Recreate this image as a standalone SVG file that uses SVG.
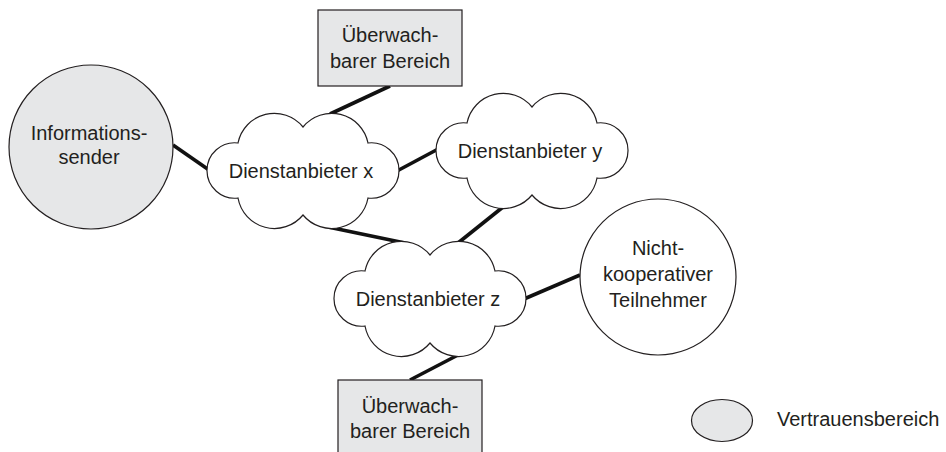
<svg xmlns="http://www.w3.org/2000/svg" xmlns:xlink="http://www.w3.org/1999/xlink" width="946" height="452" viewBox="0 0 946 452">
  <style>
    .link { stroke: #111; stroke-width: 3.6; stroke-linecap: butt; fill: none; }
    .trust { fill: #e6e7e8; stroke: #231f20; stroke-width: 1.2; }
    .area { fill: #e6e7e8; stroke: #231f20; stroke-width: 1.2; }
    .cloud { fill: #ffffff; stroke: #231f20; stroke-width: 1.2; }
    .plain { fill: #ffffff; stroke: #231f20; stroke-width: 1.2; }
    text { font-family: "Liberation Sans", Arial, Helvetica, sans-serif; font-size: 20px; fill: #231f20; text-anchor: middle; }
    text.left { text-anchor: start; }
  </style>
  <defs>
    <!-- cloud outline centred on 0,0 -->
    <path id="cloud-shape" d="M -65,-27 A 37 37 0 0 1 0,-43 A 37 37 0 0 1 65,-27 A 27.7 27.7 0 1 1 65,28 A 37 37 0 0 1 0,45 A 37 37 0 0 1 -65,28 A 27.7 27.7 0 1 1 -65,-27 Z"/>
  </defs>

  <g id="connectors">
    <line class="link" x1="173" y1="145" x2="209" y2="170"/>
    <line class="link" x1="390" y1="86" x2="330" y2="114"/>
    <line class="link" x1="397" y1="171" x2="440" y2="148"/>
    <line class="link" x1="328" y1="227" x2="405" y2="243"/>
    <line class="link" x1="503" y1="207" x2="458" y2="243"/>
    <line class="link" x1="524" y1="299" x2="580" y2="275"/>
    <line class="link" x1="458" y1="355" x2="410" y2="380"/>
  </g>

  <g id="informationssender">
    <circle class="trust" cx="91" cy="147" r="82"/>
    <text x="89" y="140">Informations-</text>
    <text x="89" y="164">sender</text>
  </g>

  <g id="bereich-oben">
    <rect class="area" x="318" y="10" width="144" height="76"/>
    <text x="390" y="42">Überwach-</text>
    <text x="390" y="68">barer Bereich</text>
  </g>

  <g id="dienstanbieter-x">
    <use xlink:href="#cloud-shape" href="#cloud-shape" class="cloud" transform="translate(303,170)"/>
    <text x="301" y="178">Dienstanbieter x</text>
  </g>

  <g id="dienstanbieter-y">
    <use xlink:href="#cloud-shape" href="#cloud-shape" class="cloud" transform="translate(532,150)"/>
    <text x="530" y="158">Dienstanbieter y</text>
  </g>

  <g id="dienstanbieter-z">
    <use xlink:href="#cloud-shape" href="#cloud-shape" class="cloud" transform="translate(430,298)"/>
    <text x="428" y="306">Dienstanbieter z</text>
  </g>

  <g id="nicht-kooperativer-teilnehmer">
    <circle class="plain" cx="658" cy="277" r="78"/>
    <text x="658" y="255">Nicht-</text>
    <text x="658" y="281">kooperativer</text>
    <text x="658" y="307">Teilnehmer</text>
  </g>

  <g id="bereich-unten">
    <rect class="area" x="338" y="380" width="144" height="80"/>
    <text x="410" y="413">Überwach-</text>
    <text x="410" y="438">barer Bereich</text>
  </g>

  <g id="legende">
    <ellipse class="trust" cx="722" cy="420.5" rx="30.5" ry="21"/>
    <text class="left" x="777" y="426">Vertrauensbereich</text>
  </g>
</svg>
